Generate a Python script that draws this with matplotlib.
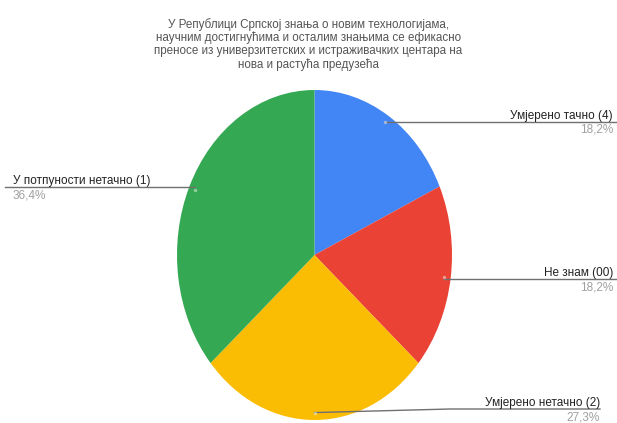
import numpy as np
import matplotlib
matplotlib.use("Agg")
import matplotlib.pyplot as plt

title = ("У Републици Српској знања о новим технологијама,\n"
         "научним достигнућима и осталим знањима се ефикасно\n"
         "преносе из универзитетских и истраживачких центара на\n"
         "нова и растућа предузећа")
labels = ["Умјерено тачно (4)", "Не знам (00)", "Умјерено нетачно (2)", "У потпуности нетачно (1)"]
values = [2, 2, 3, 4]
colors = ["#4285F4", "#EA4335", "#FBBC04", "#34A853"]

plt.rcParams['font.family'] = ['Liberation Sans', 'DejaVu Sans']
W, H = 617, 423
fig = plt.figure(figsize=(W/100, H/100), dpi=100)

# pie box in pixels (left, top, right, bottom)
pl, pt, pr, pb = 177, 90, 452, 420
pax = fig.add_axes([pl/W, 1 - pb/H, (pr-pl)/W, (pb-pt)/H])
pax.pie(values, colors=colors, startangle=90, counterclock=False,
        radius=1, wedgeprops=dict(linewidth=0))
pax.set_aspect('auto')
pax.set_xlim(-1, 1)
pax.set_ylim(-1, 1)
pax.axis('off')

# overlay axes in pixel coordinates (y downwards)
ax = fig.add_axes([0, 0, 1, 1], zorder=3)
ax.set_xlim(0, W)
ax.set_ylim(H, 0)
ax.axis('off')
ax.patch.set_alpha(0)

fig.text(0.5, 1 - 18/H, title, ha='center', va='top', fontsize=8.4,
         color='#555555', linespacing=1.1)

cx, cy = (pl + pr) / 2, (pt + pb) / 2
rx, ry = (pr - pl) / 2, (pb - pt) / 2
total = sum(values)
frac = 0.955
line_y = [122, 279, 409, 187]
xend = [617, 617, 600, 5]
text_x = [613, 613, 600, 13]
side = ['r', 'r', 'r', 'l']
cum = 0
lc = '#707070'
for i, v in enumerate(values):
    mid = (cum + v / 2) / total
    cum += v
    a = 2 * np.pi * mid
    px = cx + frac * rx * np.sin(a)
    py = cy - frac * ry * np.cos(a)
    ly = line_y[i]
    pct = f"{100 * v / total:.1f}%".replace('.', ',')
    if side[i] == 'r':
        if abs(py - ly) > 3:
            ax.plot([px, 450, xend[i]], [py, ly, ly], color=lc, lw=1.0)
        else:
            ax.plot([px, xend[i]], [ly, ly], color=lc, lw=1.0)
        ha = 'right'
    else:
        ax.plot([xend[i], px], [ly, ly], color=lc, lw=1.0)
        ha = 'left'
    ax.text(text_x[i], ly - 3, labels[i], ha=ha, va='baseline', fontsize=8.5, color='#222222')
    ax.text(text_x[i], ly + 2, pct, ha=ha, va='top', fontsize=8.5, color='#a0a0a0')
    ax.plot([px], [py], 'o', ms=2.5, color='white', alpha=0.45, mec='none')

fig.savefig('out.png', dpi=100)
